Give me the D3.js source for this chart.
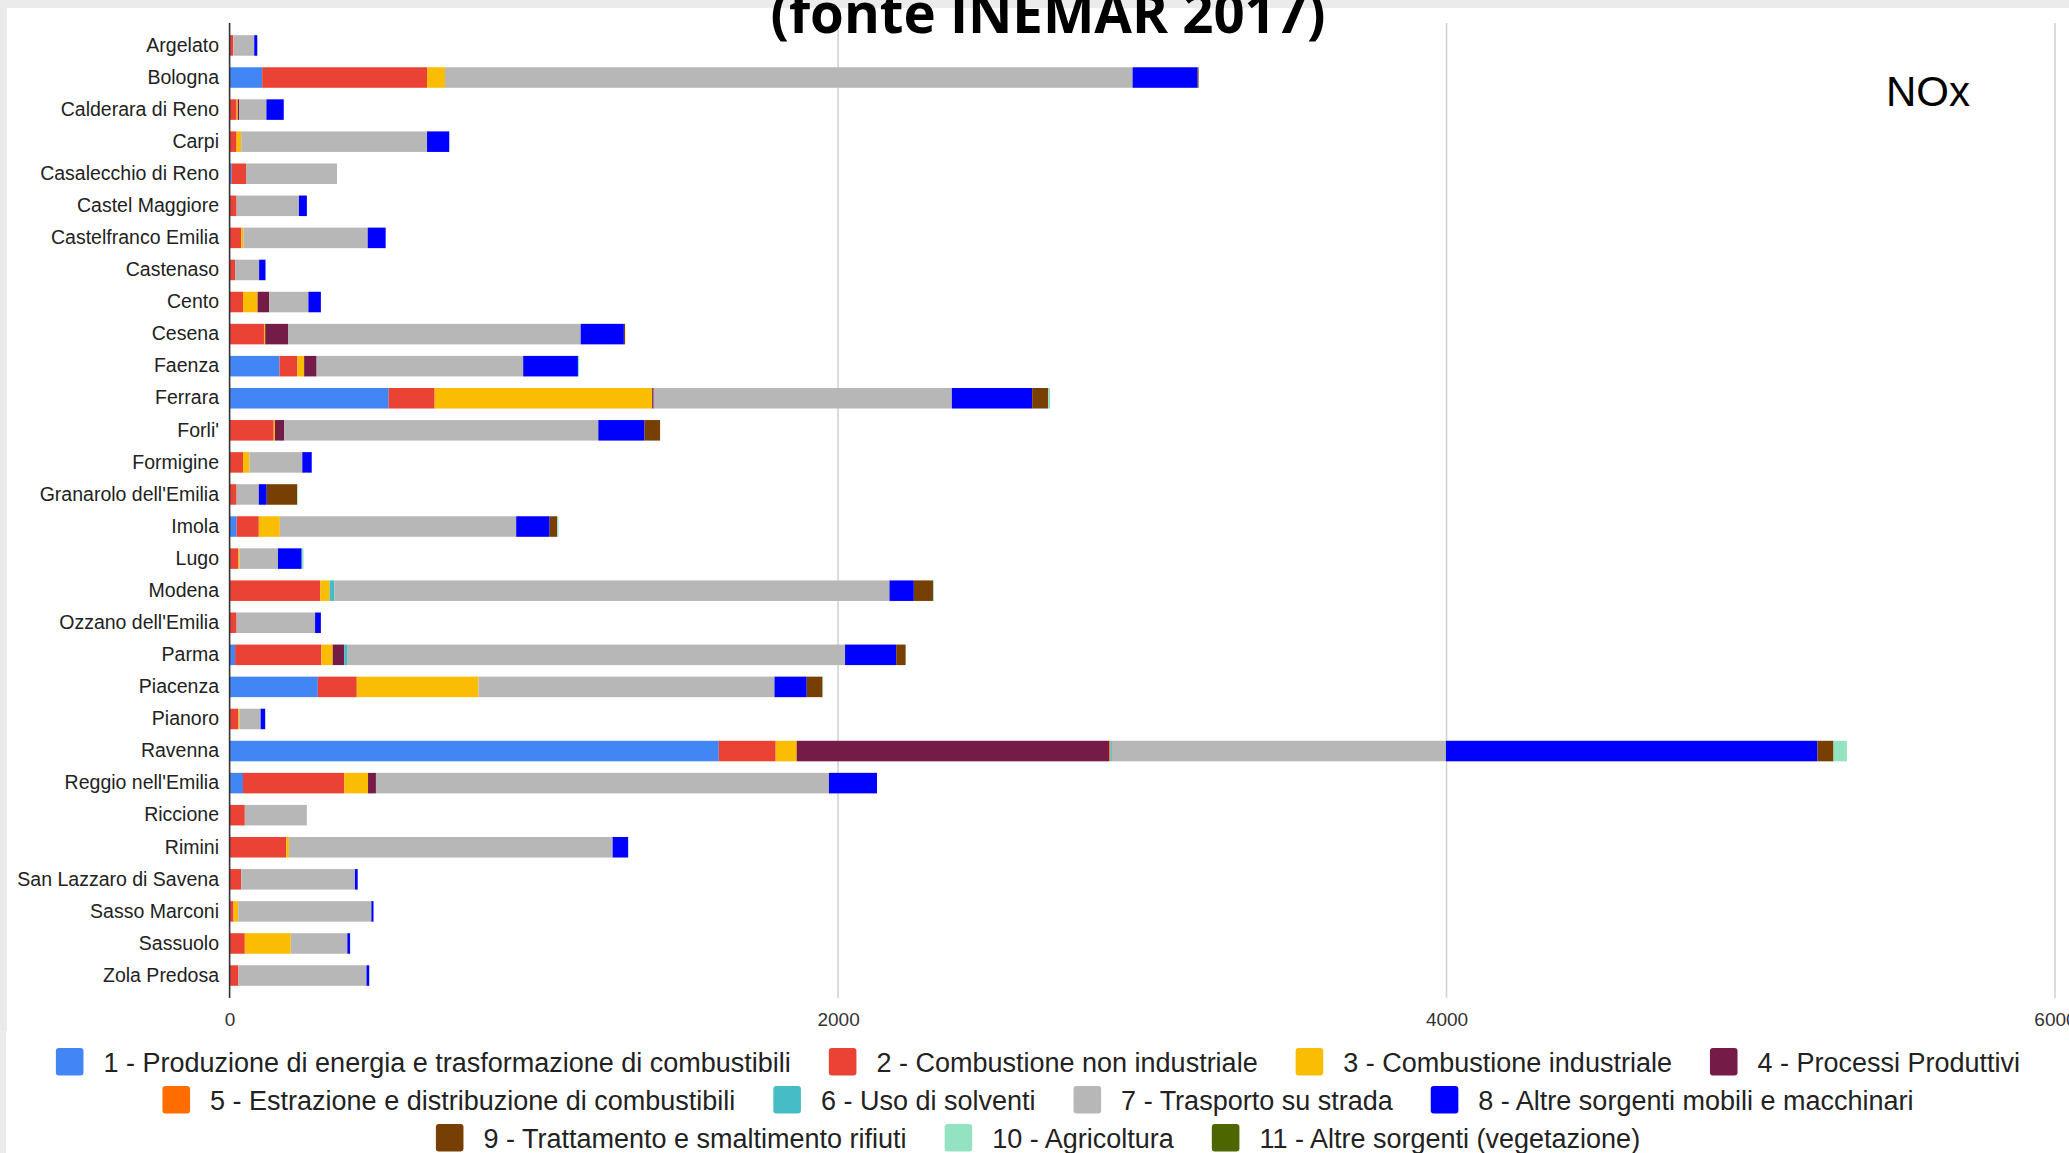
<!DOCTYPE html>
<html>
<head>
<meta charset="utf-8">
<script src="https://cdn.jsdelivr.net/npm/d3@7/dist/d3.min.js"></script>
<style>
  html, body { margin: 0; padding: 0; background: #ebebeb; }
  svg { display: block; }
</style>
</head>
<body>
<svg id="chart" width="2069" height="1153"></svg>
<script>
// ---------- DATA ----------
const cities = ["Argelato","Bologna","Calderara di Reno","Carpi","Casalecchio di Reno","Castel Maggiore",
  "Castelfranco Emilia","Castenaso","Cento","Cesena","Faenza","Ferrara","Forli'","Formigine",
  "Granarolo dell'Emilia","Imola","Lugo","Modena","Ozzano dell'Emilia","Parma","Piacenza","Pianoro",
  "Ravenna","Reggio nell'Emilia","Riccione","Rimini","San Lazzaro di Savena","Sasso Marconi","Sassuolo","Zola Predosa"];

const seriesNames = [
  "1 - Produzione di energia e trasformazione di combustibili",
  "2 - Combustione non industriale",
  "3 - Combustione industriale",
  "4 - Processi Produttivi",
  "5 - Estrazione e distribuzione di combustibili",
  "6 - Uso di solventi",
  "7 - Trasporto su strada",
  "8 - Altre sorgenti mobili e macchinari",
  "9 - Trattamento e smaltimento rifiuti",
  "10 - Agricoltura",
  "11 - Altre sorgenti (vegetazione)"
];
const seriesColors = ["#4285f4","#ea4335","#fbbc04","#741b47","#ff6d01","#46bdc6","#b7b7b7","#0000ff","#783f04","#93e3c3","#4d6600"];

//                 Arg  Bol  Cal Carp Casa CMag Cfr Cast Cent Ces  Fae  Fer  For Form Gran Imo Lugo Mod Ozz Parm Piac Pian Rav  Reg Ric Rim SLaz Sas Sass Zola
const s1_energia   = [0, 107,   0,   0,   7,   0,   0,  0,   0,   0, 164, 523,   0,   0,   0,  23,   0,   0,   0,  18, 290,   0, 1608,  44,   0,   0,   0,   0,   0,   0];
const s2_civile    = [12,542,  23,  23,  47,  23,  38, 18,  44, 113,  59, 151, 145,  44,  23,  73,  29, 298,  23, 284, 128,  28,  187, 333,  50, 186,  38,  13,  50,  29];
const s3_industria = [0,  59,   4,  15,   0,   0,   7,  0,  48,   4,  22, 715,   4,  21,   0,  69,   4,  31,   0,  37, 400,   4,   69,  78,   0,   9,   0,  15, 151,   0];
const s4_processi  = [0,   0,   5,   0,   0,   0,   0,  0,  38,  75,  41,   5,  31,   0,   0,   0,   0,   0,   0,  38,   0,   0, 1027,  26,   0,   0,   0,   0,   0,   0];
const s5_estrazione= [0,   0,   0,   0,   0,   0,   0,  0,   0,   0,   0,   0,   0,   0,   0,   0,   0,   0,   0,   0,   0,   0,    4,   0,   0,   0,   0,   0,   0,   0];
const s6_solventi  = [0,   0,   0,   0,   0,   0,   0,  0,   0,   0,   0,   0,   0,   0,   0,   0,   0,  15,   0,   9,   0,   0,    5,   0,   0,   0,   0,   0,   0,   0];
const s7_strada    = [69,2260, 89, 611, 299, 205, 409, 79, 129, 962, 679, 980,1032, 174,  73, 777, 126,1825, 258,1637, 973,  70, 1098,1489, 204,1064, 374, 438, 186, 421];
const s8_mobili    = [10, 214, 57,  73,   0,  26,  59, 21,  41, 142, 180, 264, 152,  31,  26, 110,  78,  80,  19, 168, 106,  15, 1221, 158,   0,  51,   9,   7,   9,   9];
const s9_rifiuti   = [0,   3,   0,   0,   0,   0,   0,  0,   0,   4,   0,  52,  51,   0, 100,  25,   0,  63,   0,  31,  52,   0,   53,   0,   0,   0,   0,   0,   0,   0];
const s10_agricolt = [0,   0,   0,   0,   0,   0,   0,  0,   0,   0,   4,   7,   0,   0,   2,   4,   6,   3,   0,   0,   2,   0,   44,   0,   0,   0,   0,   0,   0,   0];
const s11_vegetaz  = [0,   0,   0,   0,   0,   0,   0,  0,   0,   0,   0,   0,   0,   0,   0,   0,   0,   0,   0,   0,   0,   0,    0,   0,   0,   0,   0,   0,   0,   0];

const seriesValues = [s1_energia,s2_civile,s3_industria,s4_processi,s5_estrazione,s6_solventi,s7_strada,s8_mobili,s9_rifiuti,s10_agricolt,s11_vegetaz];
const xTicks = [0, 2000, 4000, 6000];
const titleText = "(fonte INEMAR 2017)";
const pollutant = "NOx";

// ---------- LAYOUT ----------
const svg = d3.select("#chart");
const W = 2069, H = 1153;
const plot = {left: 229.6, right: 2055, top: 23, bottom: 998};

// panels
svg.append("rect").attr("x",0).attr("y",0).attr("width",W).attr("height",H).attr("fill","#ebebeb");
svg.append("rect").attr("x",7).attr("y",8).attr("width",W-7).attr("height",1023).attr("fill","#ffffff");
svg.append("rect").attr("x",6).attr("y",1031).attr("width",W-6).attr("height",H-1031).attr("fill","#ffffff");

const x = d3.scaleLinear().domain([0, 6000]).range([plot.left, plot.right]);
const y = d3.scaleBand().domain(cities).range([plot.top, plot.bottom]).paddingInner(0.36).paddingOuter(0.38);

// gridlines
svg.append("g").selectAll("line").data(xTicks.filter(t => t > 0)).join("line")
  .attr("x1", d => x(d)).attr("x2", d => x(d))
  .attr("y1", plot.top).attr("y2", plot.bottom)
  .attr("stroke", "#d3d3d3").attr("stroke-width", 1.6);

// stacked data
const keys = seriesNames.map((_, i) => "s" + i);
const rows = cities.map((c, ci) => {
  const o = {city: c};
  keys.forEach((k, si) => o[k] = seriesValues[si][ci]);
  return o;
});
const stacked = d3.stack().keys(keys)(rows);

svg.append("g").selectAll("g").data(stacked).join("g")
  .attr("fill", (d, i) => seriesColors[i])
  .selectAll("rect").data(d => d.filter(p => p[1] - p[0] > 0)).join("rect")
  .attr("x", d => x(d[0]))
  .attr("width", d => x(d[1]) - x(d[0]))
  .attr("y", d => y(d.data.city))
  .attr("height", y.bandwidth());

// baseline
svg.append("line").attr("x1", x(0)).attr("x2", x(0)).attr("y1", plot.top).attr("y2", plot.bottom)
  .attr("stroke", "#333").attr("stroke-width", 1.6);

// y labels
const yAxis = d3.axisLeft(y).tickSize(0).tickPadding(10.6);
const gy = svg.append("g").attr("transform", `translate(${x(0)},0)`).call(yAxis);
gy.select(".domain").remove();
gy.selectAll("text").attr("font-family", "'Liberation Sans', Arial, sans-serif")
  .attr("font-size", "19.5px").attr("fill", "#222");

// x tick labels
const xAxis = d3.axisBottom(x).tickValues(xTicks).tickSize(0).tickPadding(0).tickFormat(d3.format("d"));
const gx = svg.append("g").attr("transform", `translate(0,1012)`).call(xAxis);
gx.select(".domain").remove();
gx.selectAll("text").attr("font-family", "'Liberation Sans', Arial, sans-serif")
  .attr("font-size", "19px").attr("fill", "#333").attr("dy", "0.71em");

// title
svg.append("text").attr("x", 1048).attr("y", 33).attr("text-anchor", "middle")
  .attr("font-family", "'Open Sans', 'Liberation Sans', sans-serif").attr("font-weight", "bold")
  .attr("font-size", "56px").attr("fill", "#000")
  .attr("textLength", 555).attr("lengthAdjust", "spacingAndGlyphs")
  .text(titleText);

// NOx label
svg.append("text").attr("x", 1886).attr("y", 106)
  .attr("font-family", "'Liberation Sans', Arial, sans-serif").attr("font-size", "42px").attr("fill", "#000")
  .text(pollutant);

// legend
const legendRows = [[0,1,2,3],[4,5,6,7],[8,9,10]];
const rowTop = [1048, 1086, 1124];
const sw = 27.6, swGap = 20, itemGap = 38, cx = 1038;
const lg = svg.append("g");
legendRows.forEach((r, ri) => {
  const g = lg.append("g");
  let cur = 0;
  r.forEach(si => {
    const it = g.append("g").attr("transform", `translate(${cur},0)`);
    it.append("rect").attr("x", 0).attr("y", rowTop[ri]).attr("width", sw).attr("height", sw)
      .attr("rx", 3).attr("fill", seriesColors[si]);
    const t = it.append("text").attr("x", sw + swGap).attr("y", rowTop[ri] + sw/2).attr("dy", "0.36em")
      .attr("font-family", "'Liberation Sans', Arial, sans-serif").attr("font-size", "27px").attr("fill", "#222")
      .text(seriesNames[si]);
    cur += sw + swGap + t.node().getComputedTextLength() + itemGap;
  });
  const total = cur - itemGap;
  g.attr("transform", `translate(${cx - total/2},0)`);
});
</script>
</body>
</html>
